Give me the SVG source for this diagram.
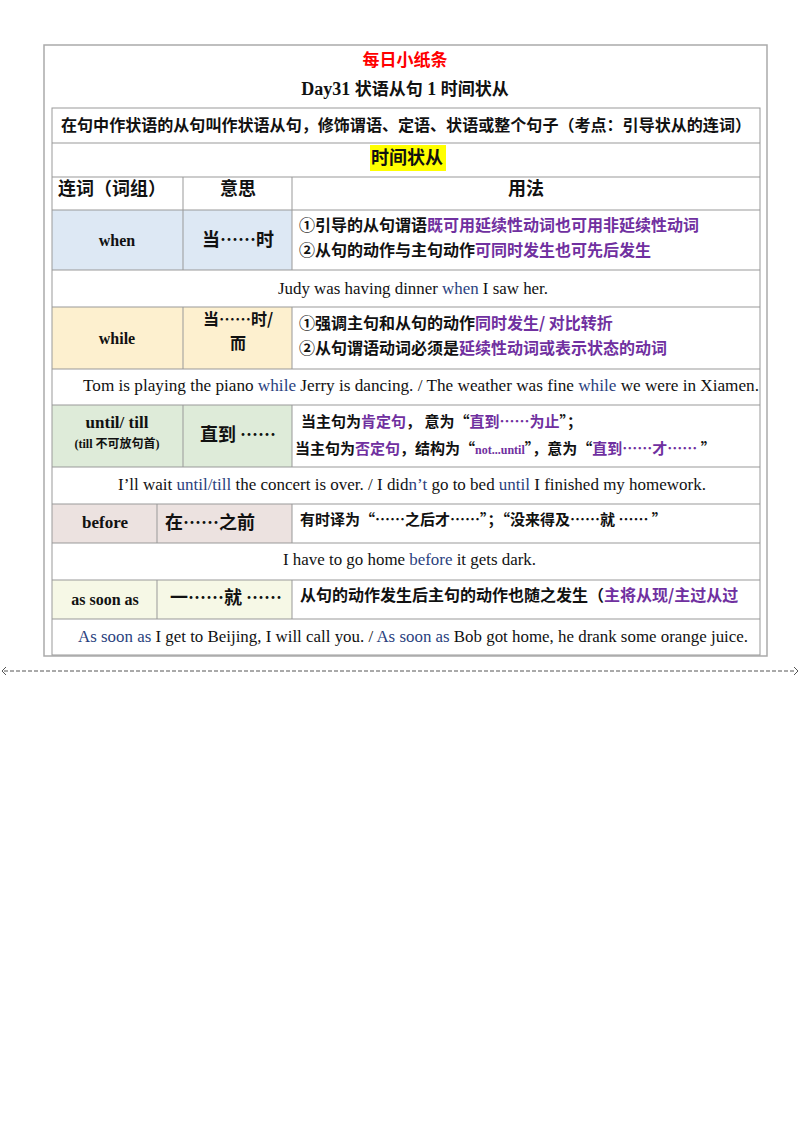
<svg xmlns="http://www.w3.org/2000/svg" width="800" height="1132" viewBox="0 0 800 1132">
<style>
.zh{font-family:"Noto Sans CJK SC","Noto Sans",sans-serif;font-weight:bold;font-size:16px;fill:#111}
.en{font-family:"Liberation Serif",serif;font-size:16px;fill:#111}
.enb{font-family:"Liberation Serif",serif;font-weight:bold;font-size:16px;fill:#111}
.p{fill:#7030a0}
.b{fill:#2a3f7e}
.c{stroke:#999;stroke-width:1;fill:none}
</style>
<rect width="800" height="1132" fill="#fff"/>
<rect x="44" y="45" width="723" height="611" fill="#fff" stroke="#aaa" stroke-width="1.5"/>
<g id="title">
<text x="405" y="66" text-anchor="middle" class="zh" style="fill:#f00;font-size:17px">每日小纸条</text>
<text x="405" y="95" text-anchor="middle" class="enb" style="font-size:18px">Day31  <tspan class="zh" style="font-size:17px">状语从句</tspan> 1  <tspan class="zh" style="font-size:17px">时间状从</tspan></text>
</g>
<g id="fills">
<rect x="52" y="210" width="240" height="60" fill="#dde8f4"/>
<rect x="52" y="307" width="240" height="62" fill="#fdf0cf"/>
<rect x="52" y="405" width="240" height="62" fill="#deebd9"/>
<rect x="52" y="504" width="240" height="39" fill="#ece2e0"/>
<rect x="52" y="580" width="240" height="39" fill="#f6f8e6"/>
<rect x="370" y="145" width="76" height="26" fill="#ffff00"/>
</g>
<g id="grid" class="c">
<rect x="52" y="108" width="708" height="547"/>
<path d="M52 143H760M52 177H760M52 210H760M52 270H760M52 307H760M52 369H760M52 405H760M52 467H760M52 504H760M52 543H760M52 580H760M52 619H760"/>
<path d="M183 177V270M292 177V270M183 307V369M292 307V369M183 405V467M292 405V467M157 504V543M292 504V543M157 580V619M292 580V619"/>
</g>
<g id="text">
<text x="61" y="131" textLength="690" lengthAdjust="spacingAndGlyphs" class="zh">在句中作状语的从句叫作状语从句，修饰谓语、定语、状语或整个句子（考点：引导状从的连词）</text>
<text x="407" y="164" text-anchor="middle" class="zh" style="font-size:18px">时间状从</text>
<text x="112" y="195" text-anchor="middle" class="zh" style="font-size:18px">连词（词组）</text>
<text x="238" y="195" text-anchor="middle" class="zh" style="font-size:18px">意思</text>
<text x="526" y="195" text-anchor="middle" class="zh" style="font-size:18px">用法</text>

<text x="117" y="246" text-anchor="middle" class="enb">when</text>
<text x="238" y="246" text-anchor="middle" class="zh" style="font-size:18px">当……时</text>
<text x="299" y="231" class="zh">①引导的从句谓语<tspan class="p">既可用延续性动词也可用非延续性动词</tspan></text>
<text x="299" y="256" class="zh">②从句的动作与主句动作<tspan class="p">可同时发生也可先后发生</tspan></text>
<text x="278" y="294" textLength="270" lengthAdjust="spacingAndGlyphs" class="en">Judy was having dinner <tspan class="b">when</tspan> I saw her.</text>

<text x="117" y="344" text-anchor="middle" class="enb">while</text>
<text x="238" y="325" text-anchor="middle" class="zh" style="font-size:16px">当……时/</text>
<text x="238" y="349" text-anchor="middle" class="zh" style="font-size:16px">而</text>
<text x="299" y="329" class="zh">①强调主句和从句的动作<tspan class="p">同时发生/ 对比转折</tspan></text>
<text x="299" y="354" class="zh">②从句谓语动词必须是<tspan class="p">延续性动词或表示状态的动词</tspan></text>
<text x="83" y="391" textLength="676" lengthAdjust="spacingAndGlyphs" class="en">Tom is playing the piano <tspan class="b">while</tspan> Jerry is dancing. / The weather was fine <tspan class="b">while</tspan> we were in Xiamen.</text>

<text x="117" y="428" text-anchor="middle" class="enb" style="font-size:17px">until/ till</text>
<text x="117" y="448" text-anchor="middle" class="en" style="font-size:12px;font-weight:bold">(till <tspan class="zh" style="font-size:12px">不可放句首</tspan>)</text>
<text x="238" y="441" text-anchor="middle" class="zh" style="font-size:18px">直到 ……</text>
<text x="301" y="427" class="zh" style="font-size:15px">当主句为<tspan class="p">肯定句</tspan>， 意为“<tspan class="p">直到……为止</tspan>”；</text>
<text x="295" y="454" class="zh" style="font-size:15px">当主句为<tspan class="p">否定句</tspan>，结构为“<tspan class="en p" style="font-size:12px;font-weight:bold">not...until</tspan>”，意为“<tspan class="p">直到……才……</tspan> ”</text>
<text x="118" y="490" textLength="588" lengthAdjust="spacingAndGlyphs" class="en">I’ll wait  <tspan class="b">until/till</tspan> the concert is over. / I did<tspan class="b">n’t</tspan> go to bed <tspan class="b">until</tspan> I finished my homework.</text>

<text x="105" y="528" text-anchor="middle" class="enb" style="font-size:17px">before</text>
<text x="165" y="529" class="zh" style="font-size:18px">在……之前</text>
<text x="300" y="525" class="zh" style="font-size:15px">有时译为“……之后才……”；“没来得及……就 …… ”</text>
<text x="283" y="565" textLength="253" lengthAdjust="spacingAndGlyphs" class="en">I have to go home <tspan class="b">before</tspan> it gets dark.</text>

<text x="105" y="605" text-anchor="middle" class="enb" style="font-size:16px">as soon as</text>
<text x="226" y="604" text-anchor="middle" class="zh" style="font-size:18px">一……就 ……</text>
<text x="300" y="601" class="zh">从句的动作发生后主句的动作也随之发生（<tspan class="p">主将从现/主过从过</tspan></text>
<text x="78" y="642" textLength="670" lengthAdjust="spacingAndGlyphs" class="en"><tspan class="b">As soon as</tspan> I get to Beijing, I will call you. / <tspan class="b">As soon as</tspan> Bob got home, he drank some orange juice.</text>
</g>
<g id="connectors">
<path d="M4 671H796" stroke="#555" stroke-width="1" stroke-dasharray="4 2"/>
<path d="M6 667L2 671L6 675M794 667L798 671L794 675" stroke="#555" fill="none"/>
</g>
</svg>
